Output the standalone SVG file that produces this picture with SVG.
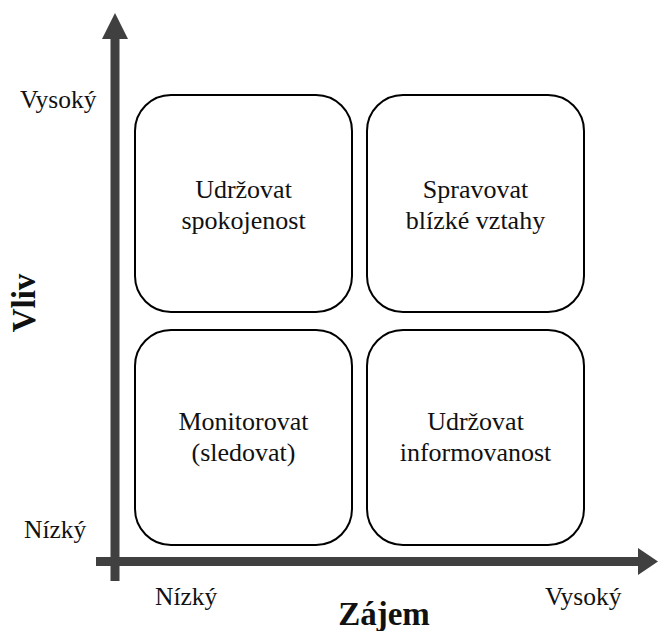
<svg xmlns="http://www.w3.org/2000/svg" width="660" height="631" viewBox="0 0 660 631">
<style>
text{font-family:"Liberation Serif","Times New Roman",serif;fill:#111}
.t{font-size:26px;text-anchor:middle}
.ax{font-size:25.5px}
.ttl{font-size:33px;font-weight:bold;text-anchor:middle}
.box{fill:#fff;stroke:#000;stroke-width:2}
.axis{stroke:#404040;stroke-width:9;fill:none}
.head{fill:#404040}
</style>
<rect width="660" height="631" fill="#fff"/>
<g id="connectors">
<line class="axis" x1="115" y1="38" x2="115" y2="581"/>
<polygon class="head" points="115,13 102,39 128,39"/>
<line class="axis" x1="96" y1="561.5" x2="640" y2="561.5"/>
<polygon class="head" points="658,561.5 638,548 638,575"/>
</g>
<g id="box1">
<rect class="box" x="135" y="95" width="217" height="217" rx="36"/>
<text class="t" x="243.5" y="198">Udržovat</text>
<text class="t" x="243.5" y="229">spokojenost</text>
</g>
<g id="box2">
<rect class="box" x="367" y="95" width="217" height="217" rx="36"/>
<text class="t" x="475.5" y="198">Spravovat</text>
<text class="t" x="475.5" y="229">blízké vztahy</text>
</g>
<g id="box3">
<rect class="box" x="135" y="330" width="217" height="215" rx="36"/>
<text class="t" x="243.5" y="430">Monitorovat</text>
<text class="t" x="243.5" y="461">(sledovat)</text>
</g>
<g id="box4">
<rect class="box" x="367" y="330" width="217" height="215" rx="36"/>
<text class="t" x="475.5" y="430">Udržovat</text>
<text class="t" x="475.5" y="461">informovanost</text>
</g>
<g id="labels">
<text class="ax" x="20" y="108">Vysoký</text>
<text class="ax" x="24" y="538">Nízký</text>
<text class="ax" x="155" y="605">Nízký</text>
<text class="ax" x="545" y="605">Vysoký</text>
<text class="ttl" x="384" y="625">Zájem</text>
<text class="ttl" transform="translate(35,303) rotate(-90)" x="0" y="0">Vliv</text>
</g>
</svg>
